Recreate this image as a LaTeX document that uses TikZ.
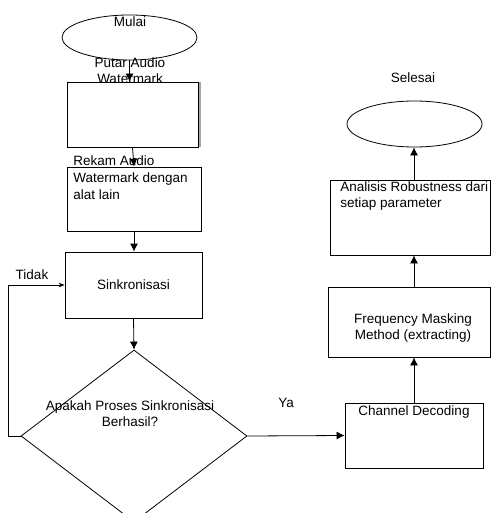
\documentclass[tikz,border=0pt]{standalone}
\usepackage{fontspec}
\setmainfont{Liberation Sans}
\usetikzlibrary{shapes.geometric,arrows.meta,shadows}

\begin{document}
\begin{tikzpicture}[x=1pt,y=-1pt,line width=0.8pt,
  every node/.style={font=\fontsize{13.5}{16}\selectfont},
  proses/.style={draw,rectangle,inner sep=0pt,fill=white,
    drop shadow={shadow xshift=1pt,shadow yshift=-1.2pt,fill=gray!70,opacity=1}},
  ujung/.style={draw,ellipse,inner sep=0pt,minimum width=135pt,minimum height=45pt},
  panah/.style={-{Latex[length=8pt,width=8pt]}}]
   \useasboundingbox (0,0) rectangle (492,513);
   % kolom kiri
   \node[ujung] (mulai) at (129.5,37.5) {};
   \node (tmulai) at (130,22) {Mulai};
   \node[proses,minimum width=131pt,minimum height=65pt,
     drop shadow={shadow xshift=2.5pt,shadow yshift=0pt,fill=gray!70,opacity=1}] (putar) at (132.5,114.5) {};
   \node[align=center] (tputar) at (130,71) {Putar Audio\\Watermark};
   \node[proses,minimum width=134pt,minimum height=64pt] (rekam) at (134,199) {};
   \node[align=left,anchor=west,inner sep=0pt,font=\fontsize{13.5}{17}\selectfont] (trekam) at (73,178) {Rekam Audio\\Watermark dengan\\alat lain};
   \node[proses,minimum width=137pt,minimum height=66pt] (sinkron) at (133.5,285) {Sinkronisasi};
   \node[draw,diamond,minimum width=226pt,minimum height=172pt,inner sep=0pt] (dec) at (134,436) {};
   \node[align=center] (tdec) at (130,413.5) {Apakah Proses Sinkronisasi\\Berhasil?};
   \node (tidak) at (32,275) {Tidak};
   \coordinate (belok) at (8,436);
   % kolom kanan
   \node[proses,minimum width=138pt,minimum height=65pt] (cd) at (414,435.5) {};
   \node (tcd) at (414,412) {Channel Decoding};
   \node (ya) at (286,403) {Ya};
   \node[proses,minimum width=162pt,minimum height=70pt] (fmm) at (409,322) {};
   \node[align=center] (tfmm) at (413,328) {Frequency Masking\\Method (extracting)};
   \node[proses,minimum width=160pt,minimum height=75pt] (analisis) at (410,217.5) {};
   \node[align=left,anchor=west,inner sep=0pt] (tanalisis) at (340,196.5) {Analisis Robustness dari\\setiap parameter};
   \node[ujung,minimum height=46pt] (selesai) at (414.5,124) {};
   \node (tselesai) at (413,78) {Selesai};
   % panah
   \draw[panah] (mulai.south) -- (mulai.south |- putar.north);
   \draw[panah] (putar.south) -- (rekam.north);
   \draw[panah] (rekam.south) -- (rekam.south |- sinkron.north);
   \draw[panah] (sinkron.south) -- (dec.north);
   \draw (dec.west) -- (belok);
   \draw[-{Stealth[length=6pt]}] (belok) |- (sinkron.west);
   \draw[panah] (dec.east) -- (cd.west);
   \draw[panah] (cd.north) -- (cd.north |- fmm.south);
   \draw[panah] (cd.north |- fmm.north) -- (cd.north |- analisis.south);
   \draw[panah] (cd.north |- analisis.north) -- (cd.north |- selesai.south);
\end{tikzpicture}
\end{document}
